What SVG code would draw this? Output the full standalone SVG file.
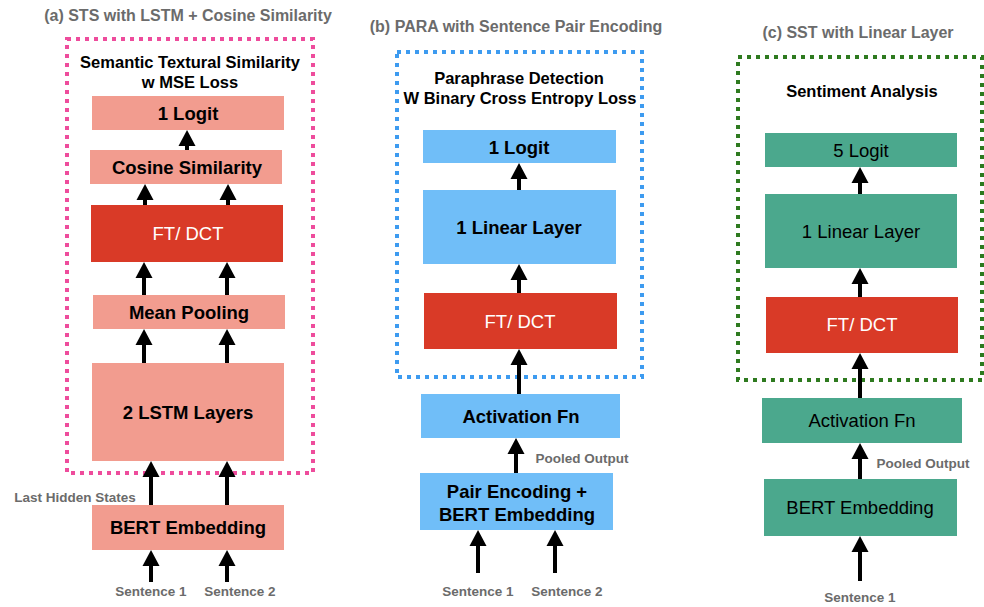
<svg xmlns="http://www.w3.org/2000/svg" width="984" height="607" viewBox="0 0 984 607">
<defs>
<marker id="ah" markerUnits="userSpaceOnUse" markerWidth="17" markerHeight="18" refX="0" refY="9" orient="auto" viewBox="0 0 17 18"><path d="M0,0.5 L16,9 L0,17.5 Z" fill="#000"/></marker>
<style>
text{font-family:"Liberation Sans",Arial,Helvetica,sans-serif;text-anchor:middle}
.title{font-size:16px;font-weight:bold;fill:#6b6b6b}
.lab{font-size:13.5px;font-weight:bold;fill:#6b6b6b}
.head{font-size:16.5px;font-weight:bold;fill:#000}
.n{font-size:18.5px;font-weight:bold;fill:#000}
.nr{font-size:18.5px;fill:#000}
.w{font-size:18.5px;fill:#fff}
.sal{fill:#F29C8F}
.red{fill:#D93A27}
.blu{fill:#70BEF8}
.grn{fill:#4BA88D}
.box{fill:none;stroke-width:4;stroke-dasharray:4 5}
.arr{stroke:#000;stroke-width:4;fill:none;marker-end:url(#ah)}
</style>
</defs>
<g id="panel-a">
<text class="title" x="188" y="21">(a) STS with LSTM + Cosine Similarity</text>
<rect class="box" x="67" y="39" width="246" height="434" stroke="#EE4C9C"/>
<text class="head" x="190" y="68">Semantic Textural Similarity</text>
<text class="head" x="190" y="88">w MSE Loss</text>
</g>
<g id="a-logit"><rect class="sal" x="92" y="96" width="192" height="34"/><text class="n" x="188" y="120">1 Logit</text></g>
<g id="a-cos"><rect class="sal" x="90" y="150" width="192" height="34"/><text class="n" x="187" y="174">Cosine Similarity</text></g>
<g id="a-ft"><rect class="red" x="91" y="205" width="192" height="57"/><text class="w" x="188" y="240">FT/ DCT</text></g>
<g id="a-mean"><rect class="sal" x="93" y="295" width="192" height="34"/><text class="n" x="189" y="319">Mean Pooling</text></g>
<g id="a-lstm"><rect class="sal" x="92" y="363" width="192" height="98"/><text class="n" x="188" y="419">2 LSTM Layers</text></g>
<g id="a-bert"><rect class="sal" x="92" y="505" width="192" height="45"/><text class="n" x="188" y="534">BERT Embedding</text></g>
<g id="a-labels">
<text class="lab" x="75" y="502">Last Hidden States</text>
<text class="lab" x="151" y="596">Sentence 1</text>
<text class="lab" x="240" y="596">Sentence 2</text>
</g>
<g id="panel-b">
<text class="title" x="516" y="32">(b) PARA with Sentence Pair Encoding</text>
<rect class="box" x="397" y="52" width="245" height="325" stroke="#3D9BF0"/>
<text class="head" x="519" y="84">Paraphrase Detection</text>
<text class="head" x="520" y="104">W Binary Cross Entropy Loss</text>
</g>
<g id="b-logit"><rect class="blu" x="423" y="130" width="193" height="33"/><text class="n" x="519" y="154">1 Logit</text></g>
<g id="b-linear"><rect class="blu" x="423" y="190" width="193" height="74"/><text class="n" x="519" y="234">1 Linear Layer</text></g>
<g id="b-ft"><rect class="red" x="424" y="293" width="193" height="56"/><text class="w" x="520" y="328">FT/ DCT</text></g>
<g id="b-act"><rect class="blu" x="421" y="394" width="199" height="44"/><text class="n" x="521" y="423">Activation Fn</text></g>
<g id="b-bert"><rect class="blu" x="420" y="473" width="193" height="57"/><text class="n" x="517" y="498">Pair Encoding +</text><text class="n" x="517" y="521">BERT Embedding</text></g>
<g id="b-labels">
<text class="lab" x="582" y="463">Pooled Output</text>
<text class="lab" x="478" y="596">Sentence 1</text>
<text class="lab" x="567" y="596">Sentence 2</text>
</g>
<g id="panel-c">
<text class="title" x="858" y="38">(c) SST with Linear Layer</text>
<rect class="box" x="738" y="57" width="244" height="323" stroke="#2E7A1F"/>
<text class="head" x="862" y="97">Sentiment Analysis</text>
</g>
<g id="c-logit"><rect class="grn" x="765" y="133" width="192" height="34"/><text class="nr" x="861" y="157">5 Logit</text></g>
<g id="c-linear"><rect class="grn" x="765" y="194" width="192" height="74"/><text class="nr" x="861" y="238">1 Linear Layer</text></g>
<g id="c-ft"><rect class="red" x="766" y="297" width="192" height="56"/><text class="w" x="862" y="331">FT/ DCT</text></g>
<g id="c-act"><rect class="grn" x="762" y="398" width="200" height="45"/><text class="nr" x="862" y="427">Activation Fn</text></g>
<g id="c-bert"><rect class="grn" x="764" y="479" width="193" height="57"/><text class="nr" x="860" y="514">BERT Embedding</text></g>
<g id="c-labels">
<text class="lab" x="923" y="468">Pooled Output</text>
<text class="lab" x="860" y="602">Sentence 1</text>
</g>
<g id="connectors">
<line class="arr" x1="187" y1="150" x2="187" y2="146"/>
<line class="arr" x1="145" y1="205" x2="145" y2="200"/>
<line class="arr" x1="228" y1="205" x2="228" y2="200"/>
<line class="arr" x1="144" y1="295" x2="144" y2="278"/>
<line class="arr" x1="227" y1="295" x2="227" y2="278"/>
<line class="arr" x1="144" y1="363" x2="144" y2="345"/>
<line class="arr" x1="227" y1="363" x2="227" y2="345"/>
<line class="arr" x1="151" y1="505" x2="151" y2="477"/>
<line class="arr" x1="227" y1="505" x2="227" y2="477"/>
<line class="arr" x1="151" y1="582" x2="151" y2="566"/>
<line class="arr" x1="227" y1="582" x2="227" y2="566"/>
<line class="arr" x1="519" y1="190" x2="519" y2="179"/>
<line class="arr" x1="519" y1="293" x2="519" y2="280"/>
<line class="arr" x1="519" y1="394" x2="519" y2="365"/>
<line class="arr" x1="516" y1="473" x2="516" y2="454"/>
<line class="arr" x1="478" y1="573" x2="478" y2="546"/>
<line class="arr" x1="555" y1="573" x2="555" y2="546"/>
<line class="arr" x1="860" y1="194" x2="860" y2="183"/>
<line class="arr" x1="860" y1="297" x2="860" y2="284"/>
<line class="arr" x1="860" y1="398" x2="860" y2="369"/>
<line class="arr" x1="860" y1="479" x2="860" y2="459"/>
<line class="arr" x1="860" y1="581" x2="860" y2="552"/>
</g>
</svg>
